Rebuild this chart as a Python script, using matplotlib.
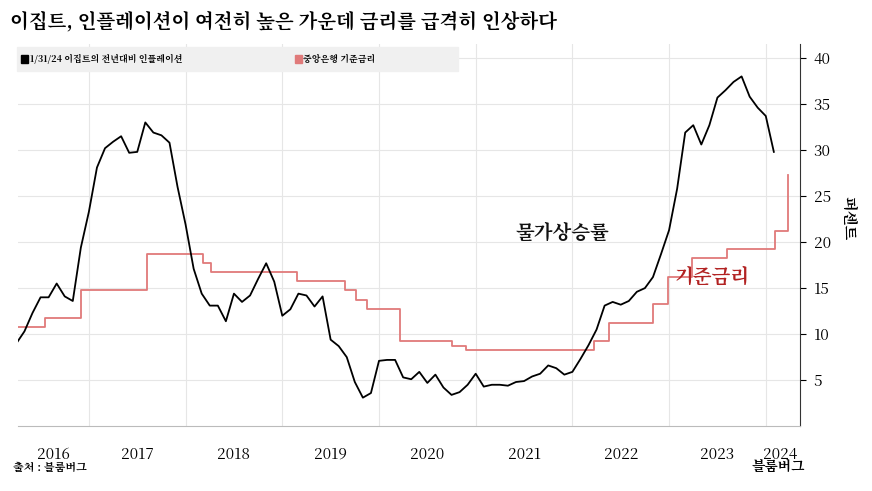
import matplotlib
matplotlib.use("Agg")
import matplotlib.pyplot as plt
from matplotlib import font_manager as fm
import numpy as np

cjk = [f.name for f in fm.fontManager.ttflist if "CJK" in f.name]
kr = [n for n in cjk if "KR" in n] or cjk
plt.rcParams["font.family"] = (kr[:1] if kr else []) + ["DejaVu Sans"]

# Inflation, monthly from Mar 2016 to Jan 2024
infl_start = 2016 + 3/12
inflation = [9.0, 10.3, 12.3, 14.0, 14.0, 15.5, 14.1, 13.6, 19.4, 23.3,
             28.1, 30.2, 30.9, 31.5, 29.7, 29.8, 33.0, 31.9, 31.6, 30.8, 26.0, 21.9,
             17.1, 14.4, 13.1, 13.1, 11.4, 14.4, 13.5, 14.2, 16.0, 17.7, 15.7, 12.0,
             12.7, 14.4, 14.2, 13.0, 14.1, 9.4, 8.7, 7.5, 4.8, 3.1, 3.6, 7.1,
             7.2, 7.2, 5.3, 5.1, 5.9, 4.7, 5.6, 4.2, 3.4, 3.7, 4.5, 5.7,
             4.3, 4.5, 4.5, 4.4, 4.8, 4.9, 5.4, 5.7, 6.6, 6.3, 5.6, 5.9,
             7.3, 8.8, 10.5, 13.1, 13.5, 13.2, 13.6, 14.6, 15.0, 16.2, 18.7, 21.3,
             25.8, 31.9, 32.7, 30.6, 32.7, 35.7, 36.5, 37.4, 38.0, 35.8, 34.6, 33.7,
             29.8]

# Policy rate change dates (decimal year) and levels
rate_dates = [2016.2, 2016.55, 2016.92, 2017.6, 2018.18, 2018.26, 2019.15,
              2019.65, 2019.76, 2019.88, 2020.22, 2020.75, 2020.9, 2022.22,
              2022.38, 2022.83, 2022.99, 2023.24, 2023.6, 2024.1, 2024.23]
rate_values = [10.75, 11.75, 14.75, 18.75, 17.75, 16.75, 15.75,
               14.75, 13.75, 12.75, 9.25, 8.75, 8.25, 9.25,
               11.25, 13.25, 16.25, 18.25, 19.25, 21.25, 27.25]

years = [2016, 2017, 2018, 2019, 2020, 2021, 2022, 2023, 2024]
yticks = [5, 10, 15, 20, 25, 30, 35, 40]

fig = plt.figure(figsize=(8.72, 4.91), dpi=100)
ax = fig.add_axes([0.021, 0.132, 0.896, 0.778])
x_infl = infl_start + np.arange(len(inflation)) / 12
ax.plot(x_infl, inflation, color="black", lw=1.3, zorder=3)
ax.step(rate_dates, rate_values, where="post", color="#e07a7a", lw=1.3, zorder=2)

ax.set_xlim(2016.27, 2024.35)
ax.set_ylim(0, 41.5)
ax.yaxis.tick_right()
ax.set_yticks(yticks)
ax.set_xticks(years[1:])
ax.set_xticklabels([])
ax.tick_params(axis="y", length=4, labelsize=11, pad=6)
ax.tick_params(axis="x", length=0)
ax.grid(True, color="#e6e6e6", lw=0.8)
for s in ["left", "top"]:
    ax.spines[s].set_visible(False)
ax.spines["right"].set_color("#333333")
ax.spines["bottom"].set_color("#bbbbbb")
for y in years:
    xc = max(y + 0.5, 2016.63) if y < 2024 else 2024.15
    ax.text(xc, -2.2, str(y), ha="center", va="top", fontsize=11, transform=ax.transData)

fig.text(0.012, 0.955, "이집트, 인플레이션이 여전히 높은 가운데 금리를 급격히 인상하다",
         fontsize=14, fontweight="bold", va="center")
fig.patches.append(plt.Rectangle((0.02, 0.855), 0.505, 0.05, transform=fig.transFigure,
                                 color="#f0f0f0", zorder=0))
fig.patches.append(plt.Rectangle((0.024, 0.872), 0.008, 0.016, transform=fig.transFigure, color="black"))
fig.text(0.034, 0.88, "1/31/24 이집트의 전년대비 인플레이션", fontsize=6.5, fontweight="bold", va="center")
fig.patches.append(plt.Rectangle((0.338, 0.872), 0.008, 0.016, transform=fig.transFigure, color="#e07a7a"))
fig.text(0.348, 0.88, "중앙은행 기준금리", fontsize=6.5, fontweight="bold", va="center")

ax.text(2021.9, 20.3, "물가상승률", fontsize=14, fontweight="bold", color="#111111", ha="center")
ax.text(2023.45, 15.6, "기준금리", fontsize=14, fontweight="bold", color="#b22222", ha="center")
fig.text(0.972, 0.555, "퍼센트", rotation=270, fontsize=11, fontweight="bold", va="center", ha="center")
fig.text(0.015, 0.04, "출처 : 블룸버그", fontsize=8, fontweight="bold")
fig.text(0.862, 0.04, "블룸버그", fontsize=10, fontweight="bold")

fig.savefig("out.png", dpi=100)
